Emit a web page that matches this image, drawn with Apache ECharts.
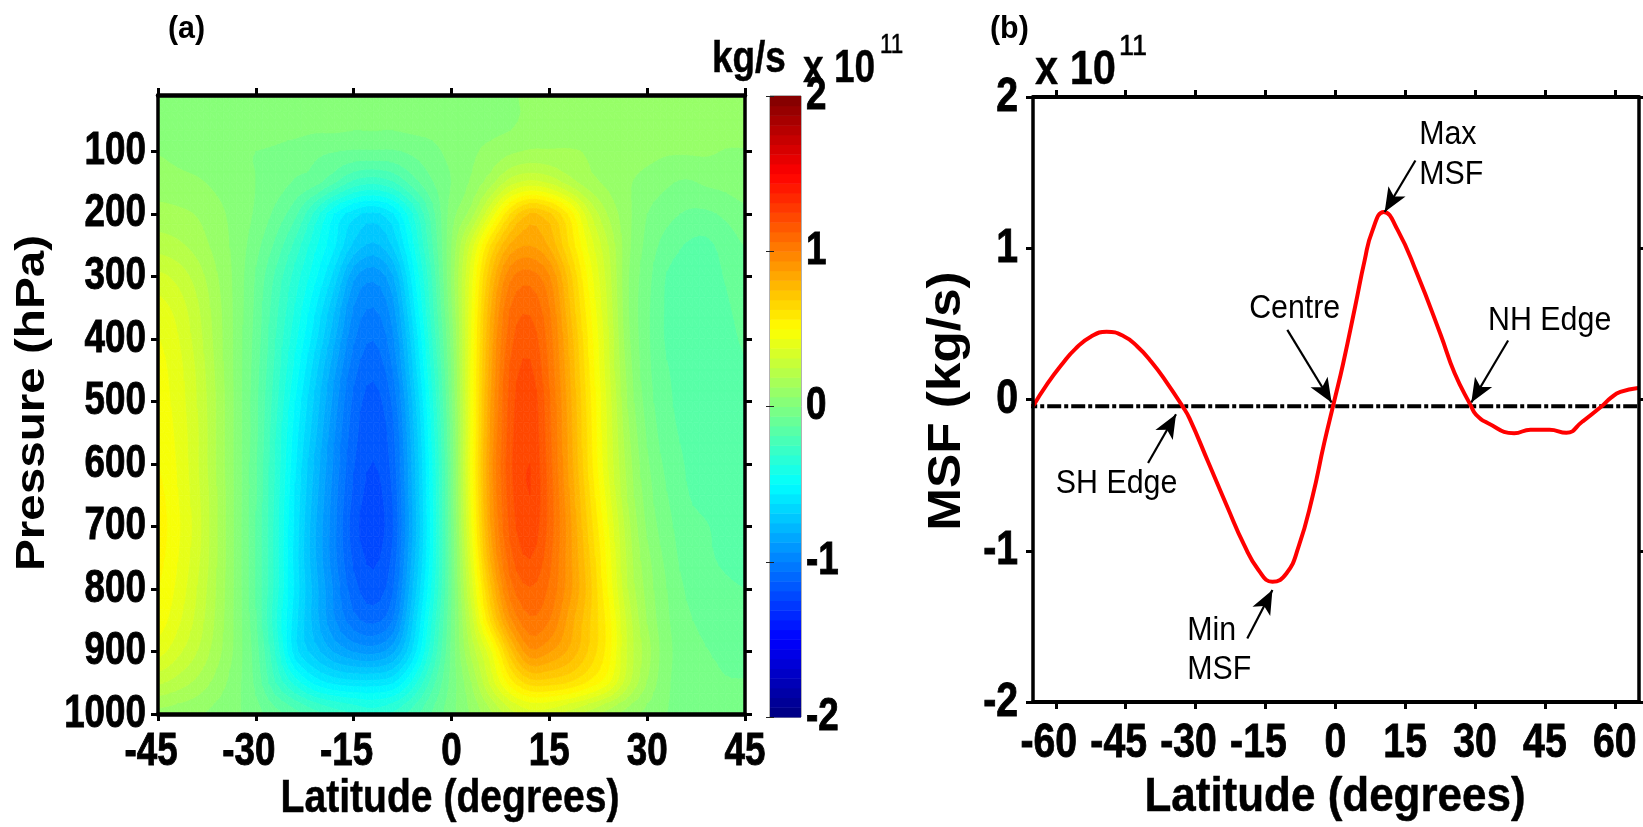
<!DOCTYPE html>
<html>
<head>
<meta charset="utf-8">
<style>html,body{margin:0;padding:0;background:#fff}#c{width:1643px;height:827px}</style>
<script src="https://cdn.jsdelivr.net/npm/echarts@6/dist/echarts.min.js"></script>
</head>
<body>
<div id="c"></div>
<script>
// ---------- panel (a): mass stream function (x 10^11 kg/s) ----------
var lats = [-45,-42,-39,-36,-33,-30,-27,-24,-21,-18,-15,-12,-9,-6,-3,0,3,6,9,12,15,18,21,24,27,30,33,36,39,42,45];
var pressures = [10,50,100,150,200,250,300,350,400,450,500,550,600,650,700,750,800,850,900,950,1000];
var msfGrid = [
[.03,.03,.03,.03,.03,.03,.03,.03,.03,.03,.03,.03,.03,.03,.03,.03,.03,.04,.05,.08,.08,.08,.08,.08,.08,.08,.08,.08,.08,.08,.08],
[.05,.05,.05,.04,.04,.04,.04,.04,.03,.03,.02,.02,.02,.03,.03,.04,.04,.04,.05,.08,.09,.09,.09,.09,.09,.09,.08,.08,.08,.08,.08],
[.06,.05,.04,.03,.01,0,-.01,-.03,-.05,-.06,-.07,-.07,-.07,-.05,-.02,.02,.05,.08,.11,.13,.13,.13,.12,.1,.09,.08,.07,.07,.07,.06,.06],
[.09,.08,.07,.05,.03,0,-.03,-.07,-.1,-.18,-.27,-.3,-.26,-.16,-.07,0,.07,.16,.28,.33,.3,.22,.15,.11,.07,.04,.01,-.01,.01,.02,.04],
[.15,.14,.12,.08,.04,-.01,-.08,-.17,-.33,-.5,-.6,-.64,-.57,-.38,-.16,.03,.15,.38,.62,.75,.7,.55,.33,.18,.08,0,-.04,-.07,-.075,-.05,-.02],
[.22,.2,.16,.1,.04,-.04,-.14,-.27,-.42,-.55,-.7,-.76,-.68,-.46,-.2,.06,.33,.62,.82,.87,.8,.62,.42,.25,.08,-.02,-.09,-.13,-.14,-.1,-.06],
[.33,.29,.22,.13,.04,-.07,-.2,-.34,-.48,-.65,-.86,-.92,-.82,-.54,-.25,.07,.4,.74,.98,1.03,.94,.72,.48,.28,.07,-.04,-.13,-.15,-.16,-.12,-.08],
[.4,.35,.26,.15,.04,-.08,-.23,-.38,-.55,-.74,-.94,-1,-.9,-.6,-.28,.05,.42,.8,1.06,1.11,1,.76,.52,.3,.07,-.05,-.135,-.16,-.17,-.14,-.09],
[.44,.38,.28,.16,.04,-.09,-.25,-.42,-.6,-.8,-.99,-1.06,-.95,-.66,-.32,.02,.43,.83,1.1,1.16,1.03,.8,.55,.32,.08,-.05,-.135,-.165,-.175,-.16,-.11],
[.46,.4,.3,.17,.04,-.1,-.27,-.46,-.66,-.86,-1.04,-1.11,-1,-.7,-.36,0,.44,.85,1.13,1.2,1.05,.82,.57,.33,.1,-.045,-.12,-.155,-.18,-.17,-.135],
[.47,.41,.31,.18,.04,-.11,-.29,-.5,-.7,-.9,-1.08,-1.15,-1.05,-.75,-.4,-.02,.44,.87,1.15,1.23,1.07,.84,.59,.35,.12,-.03,-.11,-.15,-.18,-.175,-.14],
[.49,.42,.32,.18,.04,-.11,-.31,-.53,-.73,-.93,-1.1,-1.17,-1.08,-.78,-.43,-.04,.44,.88,1.16,1.24,1.08,.85,.6,.36,.14,-.01,-.1,-.14,-.17,-.175,-.145],
[.5,.43,.32,.18,.04,-.12,-.32,-.55,-.76,-.95,-1.12,-1.19,-1.1,-.8,-.45,-.05,.45,.9,1.17,1.25,1.09,.86,.61,.37,.16,.01,-.08,-.13,-.165,-.175,-.15],
[.52,.44,.33,.19,.04,-.12,-.33,-.57,-.78,-.97,-1.14,-1.21,-1.12,-.81,-.46,-.05,.44,.89,1.16,1.25,1.1,.88,.64,.4,.18,.03,-.06,-.12,-.15,-.17,-.15],
[.53,.45,.34,.19,.04,-.13,-.34,-.58,-.8,-.98,-1.16,-1.22,-1.13,-.82,-.47,-.06,.42,.87,1.14,1.23,1.1,.9,.67,.44,.21,.05,-.04,-.1,-.12,-.15,-.15],
[.52,.44,.33,.19,.04,-.13,-.34,-.59,-.8,-.98,-1.14,-1.2,-1.11,-.8,-.46,-.07,.38,.82,1.1,1.19,1.08,.9,.7,.47,.23,.08,-.02,-.09,-.115,-.135,-.14],
[.5,.42,.31,.18,.04,-.13,-.34,-.58,-.78,-.95,-1.1,-1.16,-1.07,-.76,-.43,-.07,.33,.73,1.03,1.12,1.05,.9,.72,.49,.25,.1,0,-.07,-.1,-.115,-.125],
[.47,.39,.29,.17,.04,-.12,-.36,-.6,-.78,-.93,-1.04,-1.08,-1,-.7,-.38,-.06,.27,.63,.92,1.05,1,.85,.7,.53,.29,.12,.01,-.05,-.08,-.09,-.1],
[.4,.33,.25,.15,.04,-.1,-.32,-.6,-.72,-.82,-.88,-.9,-.83,-.62,-.33,-.05,.2,.42,.72,.92,.88,.8,.68,.53,.3,.15,.02,-.03,-.06,-.07,-.08],
[.26,.22,.17,.1,.02,-.08,-.25,-.4,-.52,-.58,-.6,-.6,-.57,-.42,-.22,-.04,.12,.33,.53,.65,.65,.62,.55,.45,.27,.12,.01,-.03,-.05,-.06,-.06],
[.1,.09,.07,.04,.01,-.04,-.1,-.16,-.22,-.27,-.31,-.34,-.3,-.22,-.12,-.02,.07,.17,.28,.34,.33,.28,.22,.15,.09,.04,0,-.02,-.03,-.04,-.04]
];
var latTicksA = [-45,-30,-15,0,15,30,45];
var pressureTicks = [100,200,300,400,500,600,700,800,900,1000];
var colorbarTicks = [-2,-1,0,1,2];
var colorLevels = 64;

// ---------- panel (b): zonal-mean profile ----------
var profile = [
[-65,-.05],[-61.8,.105],[-58.5,.24],[-55.8,.335],[-52.5,.415],[-49.1,.448],[-45.5,.42],[-42.5,.35],[-39.5,.25],[-36.4,.122],[-32.8,-.045],
[-31.3,-.125],[-27.2,-.42],[-23.2,-.709],[-19.6,-.96],[-16.5,-1.127],[-13.5,-1.205],[-10.5,-1.15],[-7.9,-.975],[-4.9,-.643],[-2.4,-.29],[-.3,-.02],
[1.7,.24],[4.3,.62],[6.3,.92],[7.9,1.11],[10.4,1.24],[13.4,1.12],[17.5,.836],[22.6,.43],[25.6,.175],[29.2,-.047],
[30.2,-.1],[32.8,-.157],[38.4,-.223],[41.9,-.2],[46,-.2],[49.6,-.22],[53,-.147],[57,-.05],[59.2,.012],[61.2,.05],[65,.076]
];
var zeroLine = [[-67,-.045],[65,-.045]];
var latTicksB = [-60,-45,-30,-15,0,15,30,45,60];
var msfTicks = [-2,-1,0,1,2];
var arrows = [
  {tail:[17.2,1.58],tip:[10.6,1.24]},
  {tail:[-10.3,.46],tip:[-.8,-.02]},
  {tail:[37.1,.39],tip:[29.2,-.02]},
  {tail:[-40.2,-.42],tip:[-34.2,-.097]},
  {tail:[-18.9,-1.58],tip:[-13.5,-1.26]}
];
var notes = [
  {text:'Max',  at:[18.0,1.75]},
  {text:'MSF',  at:[18.0,1.485]},
  {text:'Centre',at:[-18.5,.60]},
  {text:'NH Edge',at:[32.8,.52]},
  {text:'SH Edge',at:[-60.0,-.56]},
  {text:'Min',  at:[-31.8,-1.53]},
  {text:'MSF',  at:[-31.8,-1.79]}
];

var WIDE = '"Liberation Sans",Arial,sans-serif';
var NARROW_SCALE = 0.8;

function clamp01(x){return Math.max(0,Math.min(1,x));}
function jet(i){
  var t=(i+.5)/colorLevels;
  var r=clamp01(1.5-Math.abs(4*t-3)),g=clamp01(1.5-Math.abs(4*t-2)),b=clamp01(1.5-Math.abs(4*t-1));
  return 'rgb('+Math.round(r*255)+','+Math.round(g*255)+','+Math.round(b*255)+')';
}
function bandOf(v){return Math.max(0,Math.min(colorLevels-1,Math.floor((v+2)/4*colorLevels)));}
function clip(poly,level,keepAbove){
  var out=[];
  for(var i=0;i<poly.length;i++){
    var a=poly[i],b=poly[(i+1)%poly.length];
    var ia=keepAbove?a[2]>=level:a[2]<=level, ib=keepAbove?b[2]>=level:b[2]<=level;
    if(ia)out.push(a);
    if(ia!==ib){var f=(level-a[2])/(b[2]-a[2]);out.push([a[0]+f*(b[0]-a[0]),a[1]+f*(b[1]-a[1]),level]);}
  }
  return out;
}
// contouring: the read grid is resampled inside each cell by a Catmull-Rom patch, then filled by colour band
function cr(p0,p1,p2,p3,t){return .5*(2*p1+(p2-p0)*t+(2*p0-5*p1+4*p2-p3)*t*t+(3*p1-p0-3*p2+p3)*t*t*t);}
function gv(r,c){r=Math.max(0,Math.min(pressures.length-1,r));c=Math.max(0,Math.min(lats.length-1,c));return msfGrid[r][c];}
function patch(r,c,fy,fx){
  var q=[];
  for(var k=-1;k<=2;k++)q.push(cr(gv(r+k,c-1),gv(r+k,c),gv(r+k,c+1),gv(r+k,c+2),fx));
  return cr(q[0],q[1],q[2],q[3],fy);
}
var SUB=3;
var cells=[];
for(var r=0;r<pressures.length-1;r++)for(var c=0;c<lats.length-1;c++)cells.push([r,c]);
function renderCell(params,api){
  var r=api.value(0),c=api.value(1),children=[];
  var x0=lats[c],dx=lats[c+1]-x0,y0=pressures[r],dy=pressures[r+1]-y0;
  function pt(i,j){return [x0+dx*i/SUB,y0+dy*j/SUB,patch(r,c,j/SUB,i/SUB)];}
  for(var j=0;j<SUB;j++)for(var i=0;i<SUB;i++){
    var a=pt(i,j),b=pt(i+1,j),d=pt(i+1,j+1),e=pt(i,j+1);
    [[a,b,d],[a,d,e]].forEach(function(t){
      var vs=[t[0][2],t[1][2],t[2][2]];
      var lo=bandOf(Math.min.apply(null,vs)),hi=bandOf(Math.max.apply(null,vs));
      for(var k=lo;k<=hi;k++){
        var L=-2+4*k/colorLevels,H=-2+4*(k+1)/colorLevels;
        var p=clip(clip(t,L,true),H,false);
        if(p.length<3)continue;
        children.push({type:'polygon',shape:{points:p.map(function(q){return api.coord([q[0],q[1]]);})},
          style:{fill:jet(k),stroke:jet(k),lineWidth:.7},silent:true});
      }
    });
  }
  return {type:'group',children:children};
}
var bar=[];
for(var i=0;i<colorLevels;i++)bar.push([i]);
function renderBar(params,api){
  var i=api.value(0),L=-2+4*i/colorLevels,H=-2+4*(i+1)/colorLevels;
  var p0=api.coord([0,L]),p1=api.coord([1,H]);
  return {type:'rect',shape:{x:p0[0],y:p1[1],width:p1[0]-p0[0],height:p0[1]-p1[1]+.5},style:{fill:jet(i)}};
}
function renderNote(params,api){
  var p=api.coord([api.value(0),api.value(1)]);
  return {type:'text',x:p[0],y:p[1],scaleX:.92,style:{text:notes[params.dataIndex].text,font:'33px '+WIDE,fill:'#000',align:'left',verticalAlign:'middle'}};
}
// tick labels drawn at the axis positions, condensed horizontally like the reference's squeezed type
function tickLabels(xi,yi,vals,axis,fixed,off,size,align,sx){
  return {type:'custom',xAxisIndex:xi,yAxisIndex:yi,data:vals.map(function(v){return [v];}),silent:true,clip:false,z:6,
    renderItem:function(params,api){
      var v=api.value(0),p=api.coord(axis==='x'?[v,fixed]:[fixed,v]);
      var nudge=(axis==='x'&&v<0)?-7:0;
      return {type:'text',x:p[0]+off[0]+nudge,y:p[1]+off[1],scaleX:sx||NARROW_SCALE,
        style:{text:String(v),font:'bold '+size+'px '+WIDE,fill:'#000',stroke:'#000',lineWidth:.9,align:align,verticalAlign:'middle'}};
    }};
}
function frameAxis(extra,lw){
  return Object.assign({type:'value',axisLine:{show:true,onZero:false,lineStyle:{color:'#000',width:lw}},
    axisLabel:{show:false},splitLine:{show:false},z:5},extra);
}
function tickc(len,w,vals){return {show:true,customValues:vals,length:len,lineStyle:{color:'#000',width:w}};}
function hideLab(vals){return {show:false,customValues:vals};}
function gtext(x,y,text,font,sx,extra){
  extra=extra||{};
  var st={text:text,font:font,fill:'#000',align:extra.align||'left',verticalAlign:extra.va||'top'};
  if(extra.sw){st.stroke='#000';st.lineWidth=extra.sw;}
  return {type:'text',x:x,y:y,scaleX:sx||1,rotation:extra.rot||0,style:st};
}

var option={
  animation:false,
  backgroundColor:'#fff',
  grid:[
    {left:158,top:95,width:587,height:619,outerBoundsMode:'none'},
    {left:770,top:96,width:31,height:621,show:true,borderColor:'#666',borderWidth:1,backgroundColor:'#fff',outerBoundsMode:'none'},
    {left:1033,top:97,width:606,height:605,outerBoundsMode:'none'}
  ],
  xAxis:[
    frameAxis({gridIndex:0,min:-45,max:45,position:'bottom',axisLabel:hideLab(latTicksA),axisTick:tickc(7,3,latTicksA)},4.5),
    frameAxis({gridIndex:0,min:-45,max:45,position:'top',axisLabel:hideLab(latTicksA),axisTick:tickc(7,3,latTicksA)},4.5),
    {type:'value',gridIndex:1,min:0,max:1,show:false},
    frameAxis({gridIndex:2,min:-64.9,max:65.2,position:'bottom',axisLabel:hideLab(latTicksB),axisTick:tickc(7,3,latTicksB)},4),
    frameAxis({gridIndex:2,min:-64.9,max:65.2,position:'top',axisLabel:hideLab(latTicksB),axisTick:tickc(7,3,latTicksB)},4)
  ],
  yAxis:[
    frameAxis({gridIndex:0,min:10,max:1000,inverse:true,position:'left',axisLabel:hideLab(pressureTicks),axisTick:tickc(7,3,pressureTicks)},3.5),
    frameAxis({gridIndex:0,min:10,max:1000,inverse:true,position:'right',axisLabel:hideLab(pressureTicks),axisTick:tickc(7,3,pressureTicks)},3.5),
    {type:'value',gridIndex:1,min:-2,max:2,interval:1,position:'right',
      axisLine:{show:false},axisTick:{show:true,inside:true,length:4,lineStyle:{color:'#222',width:1}},axisLabel:{show:false},splitLine:{show:false},z:5},
    {type:'value',gridIndex:1,min:-2,max:2,interval:1,position:'left',
      axisLine:{show:false},axisTick:{show:true,inside:true,length:4,lineStyle:{color:'#222',width:1}},axisLabel:{show:false},splitLine:{show:false},z:5},
    frameAxis({gridIndex:2,min:-2,max:2,interval:1,position:'left',axisLabel:hideLab(msfTicks),axisTick:tickc(7,3,msfTicks)},3.5),
    frameAxis({gridIndex:2,min:-2,max:2,interval:1,position:'right',axisLabel:hideLab(msfTicks),axisTick:tickc(7,3,msfTicks)},3.5)
  ],
  series:[
    {type:'custom',name:'MSF section',xAxisIndex:0,yAxisIndex:0,data:cells,renderItem:renderCell,clip:true,silent:true,progressive:0,z:1},
    {type:'custom',name:'Colour bar',xAxisIndex:2,yAxisIndex:2,data:bar,renderItem:renderBar,silent:true,progressive:0,z:1},
    {type:'line',name:'Reference',xAxisIndex:3,yAxisIndex:4,data:zeroLine,showSymbol:false,clip:false,silent:true,z:2,
      lineStyle:{color:'#000',width:4,type:[14,3,4,3]}},
    {type:'line',name:'MSF',xAxisIndex:3,yAxisIndex:4,data:profile,showSymbol:false,smooth:.5,silent:true,z:3,
      lineStyle:{color:'#ff0000',width:4},
      markLine:{silent:true,animation:false,symbol:['none','arrow'],symbolSize:[15,24],label:{show:false},
        lineStyle:{color:'#000',width:2.2,type:'solid'},emphasis:{disabled:true},
        data:arrows.map(function(a){return [{coord:a.tail},{coord:a.tip}];})}},
    {type:'custom',name:'Notes',xAxisIndex:3,yAxisIndex:4,data:notes.map(function(n){return n.at;}),renderItem:renderNote,silent:true,z:4,clip:false},
    tickLabels(0,0,latTicksA,'x',1000,[0,38],46,'center'),
    tickLabels(0,0,pressureTicks,'y',-45,[-12,0],46,'right'),
    tickLabels(2,2,colorbarTicks,'y',1,[5,0],46,'left'),
    tickLabels(3,4,latTicksB,'x',-2,[0,41],49,'center'),
    tickLabels(3,4,msfTicks,'y',-64.9,[-15,0],49,'right')
  ],
  graphic:[
    gtext(168,13,'(a)','bold 32px '+WIDE,.95),
    gtext(990,13,'(b)','bold 32px '+WIDE,.95),
    gtext(712,37,'kg/s','bold 45px '+WIDE,.82,{sw:.5}),
    gtext(803,46,'x 10','bold 47px '+WIDE,.79,{sw:.4}),
    gtext(880,31,'11','28px '+WIDE,.8,{sw:.6}),
    gtext(1035,47,'x 10','bold 48px '+WIDE,.867,{sw:.4}),
    gtext(1119,32,'11','30px '+WIDE,.9,{sw:.6}),
    gtext(450,799,'Latitude (degrees)','bold 46px '+WIDE,.85,{align:'center',va:'middle',sw:.5}),
    gtext(1335,798,'Latitude (degrees)','bold 48px '+WIDE,.916,{align:'center',va:'middle',sw:.5}),
    gtext(33,403,'Pressure (hPa)','bold 40px '+WIDE,1.19,{align:'center',va:'middle',rot:Math.PI/2}),
    gtext(947,401,'MSF (kg/s)','bold 46px '+WIDE,1.115,{align:'center',va:'middle',rot:Math.PI/2})
  ]
};
echarts.init(document.getElementById('c'),null,{renderer:'canvas'}).setOption(option);
</script>
</body>
</html>
